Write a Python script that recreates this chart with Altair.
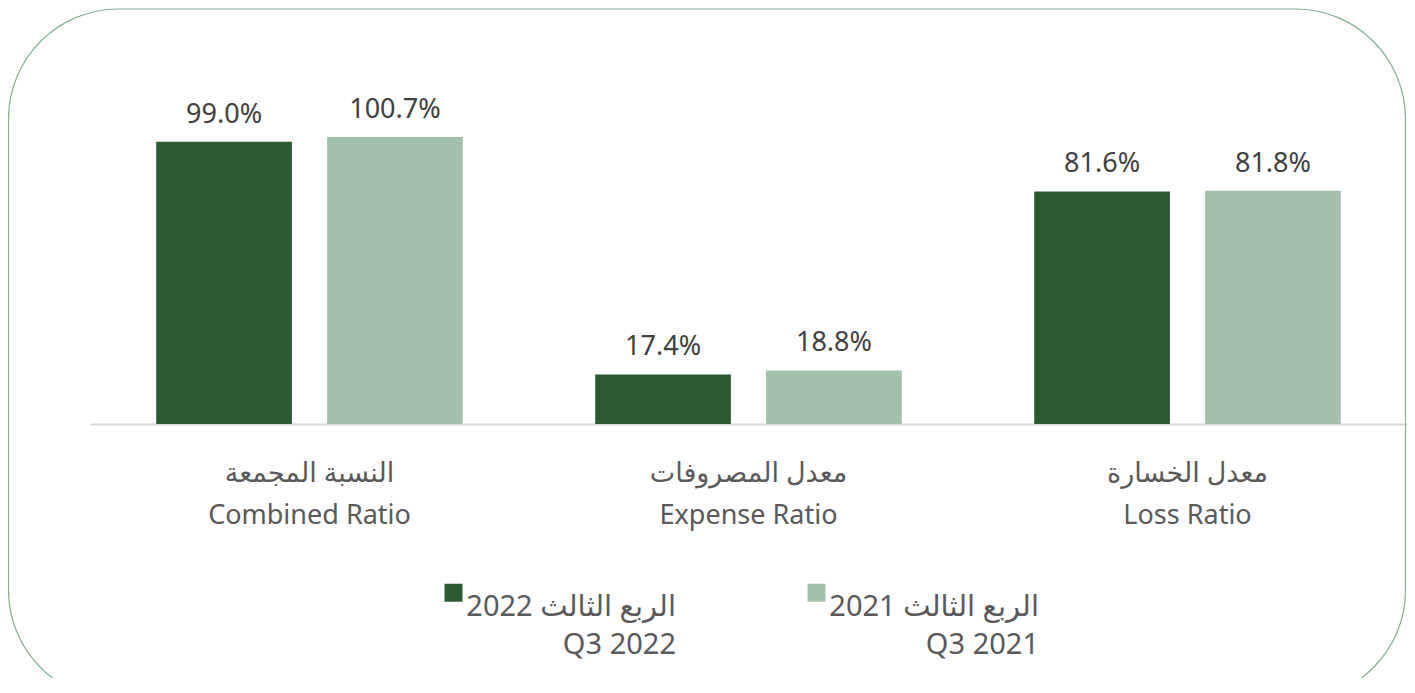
import altair as alt
import pandas as pd

# ---- data ----
categories = ["النسبة المجمعة\nCombined Ratio",
              "معدل المصروفات\nExpense Ratio",
              "معدل الخسارة\nLoss Ratio"]
series = ["2022 الربع الثالث\nQ3 2022", "2021 الربع الثالث\nQ3 2021"]
values_2022 = [99.0, 17.4, 81.6]
values_2021 = [100.7, 18.8, 81.8]

rows = []
for c, v22, v21 in zip(categories, values_2022, values_2021):
    rows.append({"cat": c, "series": series[0], "value": v22})
    rows.append({"cat": c, "series": series[1], "value": v21})
df = pd.DataFrame(rows)
df["label"] = df["value"].map(lambda v: f"{v:.1f}%")

FONT = "Noto Sans, DejaVu Sans, sans-serif"
colors = ["#2a5a31", "#a3c1aa"]

x_enc = alt.X("cat:N", sort=categories,
              scale=alt.Scale(paddingInner=0, paddingOuter=0),
              axis=alt.Axis(title=None, ticks=False, grid=False,
                            domainColor="#d9d9d9", domainWidth=2,
                            labelAngle=0, labelFont=FONT, labelFontSize=27,
                            labelColor="#595959", labelPadding=36,
                            labelLineHeight=42, labelBaseline="top",
                            labelLimit=0,
                            labelExpr="split(datum.label, '\\n')"))
xo_enc = alt.XOffset("series:N", sort=series,
                     scale=alt.Scale(paddingInner=0.206, paddingOuter=0.3875))
y_enc = alt.Y("value:Q", scale=alt.Scale(domain=[0, 120]), axis=None)

base = alt.Chart(df)

bars = base.mark_bar().encode(
    x=x_enc, xOffset=xo_enc, y=y_enc,
    color=alt.Color("series:N", sort=series,
                    scale=alt.Scale(domain=series, range=colors),
                    legend=alt.Legend(title=None, orient="none",
                                      legendX=349, legendY=496,
                                      direction="horizontal",
                                      symbolType="square", symbolSize=324,
                                      symbolStrokeWidth=0, symbolOpacity=1,
                                      labelFont=FONT, labelFontSize=29,
                                      labelColor="#595959", labelLimit=0,
                                      labelAlign="right",
                                      labelOffset=208, columnPadding=126,
                                      labelBaseline="top",
                                      labelExpr="split(datum.label, '\\n')")),
)

texts = base.mark_text(dy=-19, baseline="alphabetic", font=FONT,
                       fontSize=27, color="#404040").encode(
    x=x_enc, xOffset=xo_enc, y=y_enc, text="label:N")

border = alt.Chart(pd.DataFrame({"a": [0]})).mark_rect(
    fillOpacity=0, stroke="#86b091", strokeWidth=1.2, cornerRadius=110
).encode(x=alt.value(-81.5), x2=alt.value(1315.5),
         y=alt.value(-73), y2=alt.value(618))

chart = alt.layer(border, bars, texts).properties(
    width=1317, height=342,
    autosize="none",
    padding={"left": 82, "top": 74, "right": 0, "bottom": 254},
).configure(
    style={"guide-label": {"lineHeight": 38}}
).configure_view(stroke=None)

chart.save("out.html", embed_options={"renderer": "svg", "actions": False})
